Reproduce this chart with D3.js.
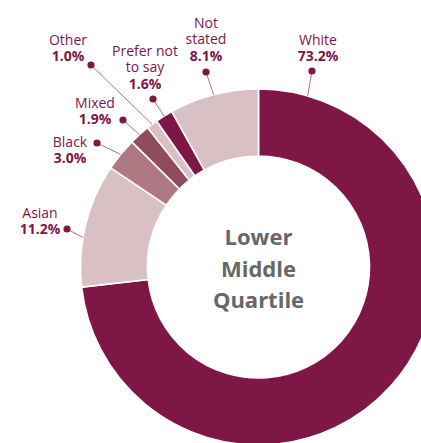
<!DOCTYPE html>
<html>
<head>
<meta charset="utf-8">
<script src="https://cdn.jsdelivr.net/npm/d3@7"></script>
<style>
  html, body { margin: 0; padding: 0; background: #fff; }
  svg { display: block; }
  text { font-family: "Open Sans", "DejaVu Sans", sans-serif; }
</style>
</head>
<body>
<div id="chart"></div>
<script>
// Ethnicity breakdown for the lower middle pay quartile (percent)
const categories = ["White", "Asian", "Black", "Mixed", "Other", "Prefer not to say", "Not stated"];
const shares = [73.2, 11.2, 3.0, 1.9, 1.0, 1.6, 8.1];
const centreTitle = ["Lower", "Middle", "Quartile"];

// Slice fills
const fills = {
  "White": "#7e1646",
  "Asian": "#d8c0c5",
  "Black": "#ae7782",
  "Mixed": "#904b5d",
  "Other": "#d8c0c5",
  "Prefer not to say": "#7e1646",
  "Not stated": "#d8c0c5"
};

// Where each label block sits: centre x, first baseline, name lines, marker dot
const labelLayout = {
  "White":             { x: 318, y: 45, lines: ["White"], dot: [312, 71] },
  "Not stated":        { x: 206, y: 28, lines: ["Not", "stated"], dot: [206, 72] },
  "Prefer not to say": { x: 145, y: 56, lines: ["Prefer not", "to say"], dot: [153, 99] },
  "Other":             { x: 68,  y: 45, lines: ["Other"], dot: [91, 65] },
  "Mixed":             { x: 95,  y: 108, lines: ["Mixed"], dot: [123, 120] },
  "Black":             { x: 70,  y: 147, lines: ["Black"], dot: [97, 143] },
  "Asian":             { x: 40,  y: 218, lines: ["Asian"], dot: [67, 229] }
};

const W = 421, H = 443;
const cx = 258.5, cy = 267;
const outerR = 178, innerR = 111;
const lineGap = 16.3;
const maroon = "#7e1646";

const svg = d3.select("#chart").append("svg")
  .attr("width", W).attr("height", H);

const data = categories.map((c, i) => ({ name: c, value: shares[i] }));

const pie = d3.pie().value(d => d.value).sort(null);
const arc = d3.arc().innerRadius(innerR).outerRadius(outerR);
const arcs = pie(data);

const g = svg.append("g").attr("transform", `translate(${cx},${cy})`);

g.selectAll("path.slice")
  .data(arcs)
  .join("path")
  .attr("class", "slice")
  .attr("d", arc)
  .attr("fill", d => fills[d.data.name])
  .attr("stroke", "#fff")
  .attr("stroke-width", 1.6);

// Leader lines: from label dot to the outer rim, near the start of large slices
function rimPoint(d) {
  const a = Math.min((d.startAngle + d.endAngle) / 2, d.startAngle + 0.28);
  return [cx + outerR * Math.sin(a), cy - outerR * Math.cos(a)];
}

const labels = svg.append("g");
arcs.forEach(d => {
  const L = labelLayout[d.data.name];
  const [px, py] = rimPoint(d);
  labels.append("line")
    .attr("x1", L.dot[0]).attr("y1", L.dot[1])
    .attr("x2", px).attr("y2", py)
    .attr("stroke", "#a3637d")
    .attr("stroke-width", 0.9);
  labels.append("circle")
    .attr("cx", L.dot[0]).attr("cy", L.dot[1])
    .attr("r", 3.6)
    .attr("fill", maroon);

  const rows = L.lines.map(t => ({ text: t, bold: false }))
    .concat([{ text: d3.format(".1f")(d.data.value) + "%", bold: true }]);
  rows.forEach((r, i) => {
    labels.append("text")
      .attr("x", L.x).attr("y", L.y + i * lineGap)
      .attr("text-anchor", "middle")
      .attr("fill", maroon)
      .attr("font-size", 14)
      .attr("font-weight", r.bold ? 700 : 400)
      .text(r.text);
  });
});

// Centre title
svg.append("g")
  .selectAll("text")
  .data(centreTitle)
  .join("text")
  .attr("text-anchor", "middle")
  .attr("fill", "#676767")
  .attr("font-size", 22)
  .attr("font-weight", 700)
  .attr("x", cx)
  .attr("y", (d, i) => 245 + i * 31.5)
  .text(d => d);
</script>
</body>
</html>
